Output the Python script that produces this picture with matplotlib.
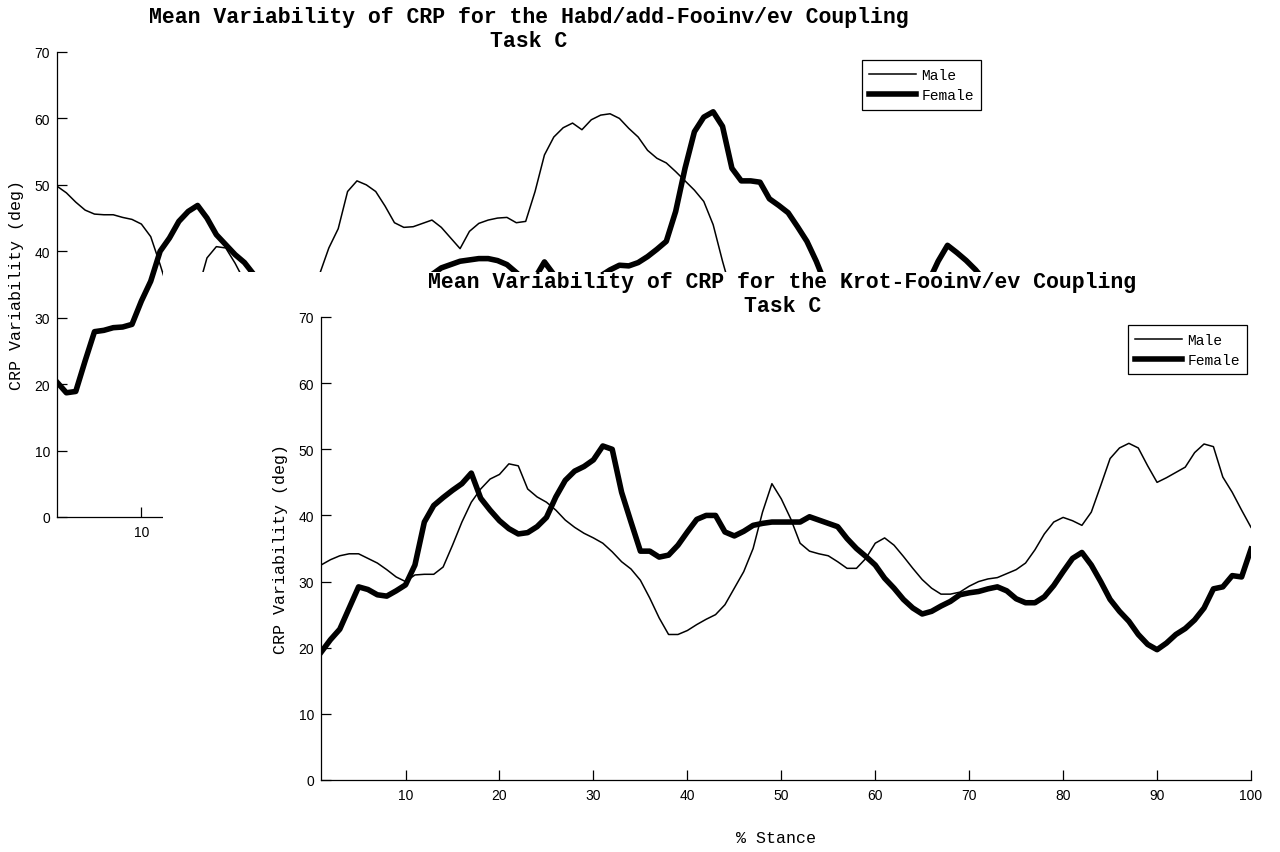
import matplotlib
matplotlib.use("Agg")
import matplotlib.pyplot as plt
from matplotlib.patches import Rectangle

# % stance samples
stance = list(range(1, 101))

# front figure: Krot-Fooinv/ev coupling
krot_male = [32.5, 33.3, 33.9, 34.2, 34.2, 33.5, 32.8, 31.8, 30.7, 30.0,
             31.0, 31.1, 31.1, 32.2, 35.5, 39.0, 42.0, 44.0, 45.5, 46.2,
             47.8, 47.5, 44.0, 42.8, 42.0, 40.8, 39.3, 38.2, 37.3, 36.6,
             35.8, 34.5, 33.0, 31.9, 30.2, 27.5, 24.5, 22.0, 22.0, 22.6,
             23.5, 24.3, 25.0, 26.5, 29.0, 31.5, 35.0, 40.5, 44.8, 42.5,
             39.5, 35.8, 34.6, 34.2, 33.9, 33.0, 32.0, 32.0, 33.5, 35.8,
             36.6, 35.5, 33.8, 32.0, 30.3, 29.0, 28.1, 28.1, 28.4, 29.3,
             30.0, 30.4, 30.6, 31.2, 31.8, 32.8, 34.8, 37.2, 39.0, 39.7,
             39.2, 38.5, 40.5, 44.5, 48.6, 50.2, 50.9, 50.2, 47.5, 45.0,
             45.7, 46.5, 47.3, 49.5, 50.8, 50.4, 45.8, 43.5, 40.8, 38.2]
krot_female = [19.3, 21.2, 22.8, 26.0, 29.2, 28.8, 28.0, 27.8, 28.6, 29.5,
               32.5, 39.0, 41.5, 42.7, 43.8, 44.8, 46.4, 42.6, 40.8, 39.2,
               38.0, 37.2, 37.4, 38.3, 39.7, 42.8, 45.3, 46.7, 47.4, 48.4,
               50.5, 50.0, 43.5, 39.0, 34.6, 34.6, 33.7, 34.0, 35.5, 37.5,
               39.4, 40.0, 40.0, 37.5, 36.9, 37.6, 38.5, 38.8, 39.0, 39.0,
               39.0, 39.0, 39.8, 39.3, 38.8, 38.3, 36.5, 35.0, 33.8, 32.5,
               30.5, 29.0, 27.3, 26.0, 25.1, 25.5, 26.3, 27.0, 28.0, 28.3,
               28.5, 28.9, 29.2, 28.6, 27.4, 26.8, 26.8, 27.7, 29.4, 31.5,
               33.5, 34.4, 32.5, 30.0, 27.3, 25.5, 24.0, 22.0, 20.5, 19.7,
               20.7, 22.0, 22.9, 24.2, 26.0, 28.9, 29.2, 30.9, 30.7, 34.9]

# back figure: Habd/add-Fooinv/ev coupling (partly hidden behind the front one)
habd_male = [49.8, 48.8, 47.4, 46.2, 45.6, 45.5, 45.5, 45.1, 44.8, 44.1,
             42.2, 38.0, 33.5, 31.0, 31.5, 34.0, 39.0, 40.7, 40.5, 38.2,
             35.5, 33.0, 31.0, 30.0, 29.5, 30.0, 31.5, 33.5, 36.5, 40.5,
             43.4, 49.0, 50.6, 50.0, 49.0, 46.8, 44.3, 43.6, 43.7, 44.2,
             44.7, 43.6, 42.0, 40.4, 43.0, 44.2, 44.7, 45.0, 45.1, 44.3,
             44.5, 49.0, 54.5, 57.2, 58.6, 59.3, 58.3, 59.8, 60.5, 60.7,
             60.0, 58.5, 57.2, 55.2, 54.0, 53.3, 52.0, 50.6, 49.2, 47.5,
             44.0, 38.5, 33.5, 30.5, 29.0, 28.0, 27.5, 28.0, 29.0, 30.0,
             31.0, 32.0, 33.0, 32.0, 31.0, 30.0, 29.0, 28.0, 27.0, 27.5,
             28.5, 30.0, 31.0, 32.0, 32.5, 32.0, 31.0, 30.0, 29.0, 28.0]
habd_female = [20.3, 18.7, 18.9, 23.5, 27.9, 28.1, 28.5, 28.6, 29.0, 32.5,
               35.5, 40.0, 42.0, 44.5, 46.0, 46.9, 45.0, 42.5, 41.0, 39.5,
               38.3, 36.5, 35.0, 33.0, 31.0, 30.0, 29.0, 28.5, 28.0, 28.5,
               29.0, 30.0, 31.0, 32.0, 33.0, 33.5, 34.0, 34.5, 35.0, 35.5,
               36.5, 37.5, 38.0, 38.5, 38.7, 38.9, 38.9, 38.6, 38.0, 36.8,
               35.5, 36.0, 38.4, 36.5, 35.0, 34.5, 34.8, 35.5, 36.3, 37.2,
               37.9, 37.8, 38.3, 39.2, 40.3, 41.5, 46.0, 52.5, 58.0, 60.2,
               61.0, 58.8, 52.5, 50.6, 50.6, 50.4, 47.9, 46.9, 45.8, 43.7,
               41.5, 38.5, 35.0, 32.0, 30.0, 28.0, 27.0, 26.5, 27.0, 28.0,
               29.5, 31.0, 33.0, 35.5, 38.5, 40.9, 39.8, 38.6, 37.2, 35.5]

y_ticks = [0, 10, 20, 30, 40, 50, 60, 70]
x_ticks = [10, 20, 30, 40, 50, 60, 70, 80, 90, 100]

MONO = "Liberation Mono"
SANS = "Liberation Sans"


def draw_panel(ax, male, female, title, title_x):
    ax.plot(stance, male, color="black", linewidth=1.1, label="Male")
    ax.plot(stance, female, color="black", linewidth=4.0, label="Female")
    ax.set_xlim(1, 100)
    ax.set_ylim(0, 70)
    ax.set_xticks(x_ticks)
    ax.set_yticks(y_ticks)
    ax.spines["top"].set_visible(False)
    ax.spines["right"].set_visible(False)
    for s in ("left", "bottom"):
        ax.spines[s].set_linewidth(0.9)
    ax.tick_params(direction="in", length=7, width=0.9, labelsize=10)
    ax.tick_params(axis="x", pad=6)
    ax.tick_params(axis="y", pad=5)
    for lab in ax.get_xticklabels() + ax.get_yticklabels():
        lab.set_fontfamily(SANS)
    ax.set_title(title, fontfamily=MONO, fontweight="bold", fontsize=15.5,
                 linespacing=1.22, pad=4, x=title_x)
    ax.set_ylabel("CRP Variability (deg)", fontfamily=MONO, fontsize=12)
    ax.yaxis.set_label_coords(-0.036, 0.5)
    ax.set_xlabel("% Stance", fontfamily=MONO, fontsize=12)
    ax.xaxis.set_label_coords(0.489, -0.108)
    leg = ax.legend(loc="upper right", bbox_to_anchor=(0.996, 0.982),
                    prop={"family": MONO, "size": 10.5}, fancybox=False,
                    edgecolor="black", framealpha=1, handlelength=3.2,
                    handletextpad=0.4, labelspacing=0.45, borderpad=0.5,
                    borderaxespad=0)
    leg.get_frame().set_linewidth(0.9)


fig = plt.figure(figsize=(12.8, 8.53), dpi=100)

ax_back = fig.add_axes([57 / 1280, 335 / 853, 928 / 1280, 465 / 853], zorder=0)
draw_panel(ax_back, habd_male, habd_female,
           "Mean Variability of CRP for the Habd/add-Fooinv/ev Coupling\nTask C",
           0.508)

# the second figure window sits on top of the first one
fig.add_artist(Rectangle((163 / 1280, 0), 1117 / 1280, 580 / 853,
                         transform=fig.transFigure, facecolor="white",
                         edgecolor="none", zorder=0.5))

ax_front = fig.add_axes([321 / 1280, 72 / 853, 930 / 1280, 463 / 853], zorder=1)
draw_panel(ax_front, krot_male, krot_female,
           "Mean Variability of CRP for the Krot-Fooinv/ev Coupling\nTask C",
           0.496)

fig.savefig("out.png", dpi=100)
